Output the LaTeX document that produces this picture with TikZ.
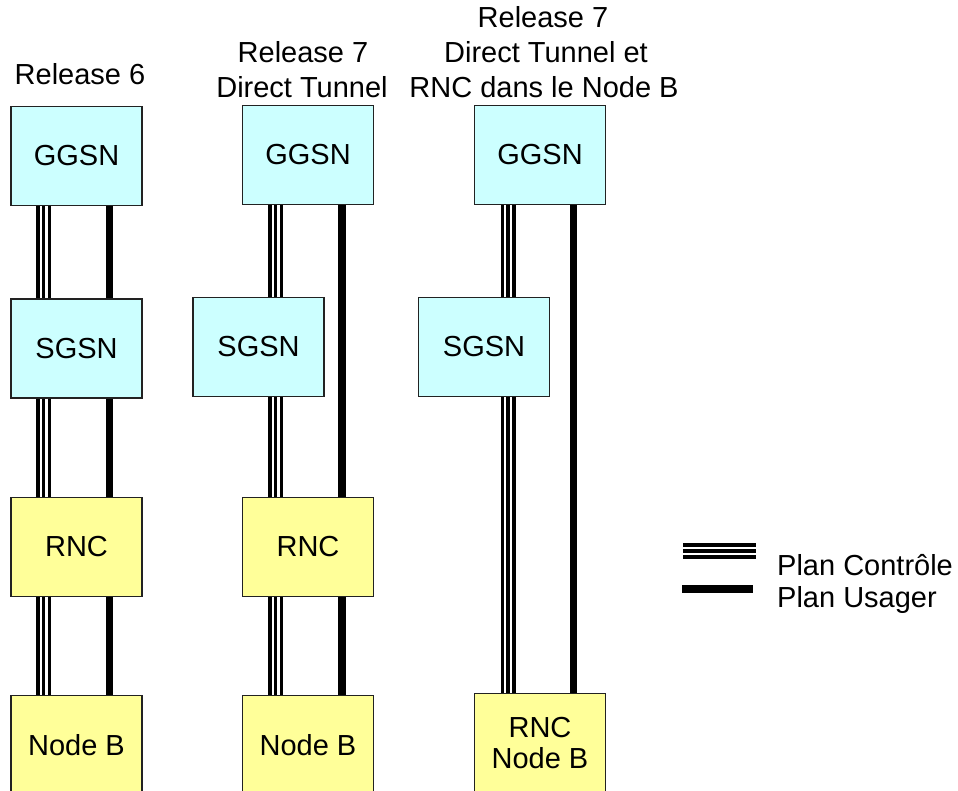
\documentclass[tikz,border=0pt]{standalone}
\usepackage{fontspec}
\setmainfont{Liberation Sans}
\definecolor{boxcyan}{HTML}{CCFFFF}
\definecolor{boxyellow}{HTML}{FFFF99}
\definecolor{boxborder}{HTML}{222222}
\begin{document}
\begin{tikzpicture}[x=1pt,y=-1pt,
  every node/.style={font=\fontsize{29}{33}\selectfont},
  netbox/.style={draw=boxborder, line width=1.2pt, rectangle, minimum width=131pt, minimum height=99pt, inner sep=0pt, align=center},
  corebox/.style={netbox, fill=boxcyan},
  ranbox/.style={netbox, fill=boxyellow},
  title/.style={anchor=base, inner sep=0pt},
  ctrl/.style={draw=black, line width=15pt, postaction={draw=white, line width=8pt}, postaction={draw=black, line width=3.5pt}},
  user/.style={draw=black, line width=7.5pt}]
\useasboundingbox (0,0) rectangle (958,791);
\clip (0,0) rectangle (958,791);
% titles
\node[title] (t1) at (80,85) {Release 6};
\node[title] (t2a) at (303,63) {Release 7};
\node[title] (t2b) at (302,98) {Direct Tunnel};
\node[title] (t3a) at (543,28) {Release 7};
\node[title] (t3b) at (546,63) {Direct Tunnel et};
\node[title] (t3c) at (544,98) {RNC dans le Node B};
% column 1
\node[corebox] (g1) at (76.5,156) {GGSN};
\node[corebox] (s1) at (76.5,348.5) {SGSN};
\node[ranbox] (r1) at (76.5,547) {RNC};
\node[ranbox] (n1) at (76.5,745) {Node B};
% column 2
\node[corebox] (g2) at (308,155) {GGSN};
\node[corebox] (s2) at (258.5,347) {SGSN};
\node[ranbox] (r2) at (308,547) {RNC};
\node[ranbox] (n2) at (308,745) {Node B};
% column 3
\node[corebox] (g3) at (540,155) {GGSN};
\node[corebox] (s3) at (484,347) {SGSN};
\node[ranbox] (n3) at (540,743) {RNC\\[-2pt]Node B};
% x positions of lines
\coordinate (c1) at (43.5,0);
\coordinate (u1) at (109.5,0);
\coordinate (c2) at (275.5,0);
\coordinate (u2) at (342,0);
\coordinate (c3) at (508,0);
\coordinate (u3) at (573.5,0);
% column 1 connectors
\draw[ctrl] (g1.south -| c1) -- (s1.north -| c1);
\draw[ctrl] (s1.south -| c1) -- (r1.north -| c1);
\draw[ctrl] (r1.south -| c1) -- (n1.north -| c1);
\draw[user] (g1.south -| u1) -- (s1.north -| u1);
\draw[user] (s1.south -| u1) -- (r1.north -| u1);
\draw[user] (r1.south -| u1) -- (n1.north -| u1);
% column 2 connectors
\draw[ctrl] (g2.south -| c2) -- (s2.north -| c2);
\draw[ctrl] (s2.south -| c2) -- (r2.north -| c2);
\draw[ctrl] (r2.south -| c2) -- (n2.north -| c2);
\draw[user] (g2.south -| u2) -- (r2.north -| u2);
\draw[user] (r2.south -| u2) -- (n2.north -| u2);
% column 3 connectors
\draw[ctrl] (g3.south -| c3) -- (s3.north -| c3);
\draw[ctrl] (s3.south -| c3) -- (n3.north -| c3);
\draw[user] (g3.south -| u3) -- (n3.north -| u3);
% legend
\coordinate (lc1) at (683,551);
\coordinate (lc2) at (756,551);
\coordinate (lu1) at (682,589);
\coordinate (lu2) at (753,589);
\draw[ctrl, line width=16pt] (lc1) -- (lc2);
\draw[user] (lu1) -- (lu2);
\node[anchor=base west, inner sep=0pt] (lt1) at (777,575) {Plan Contrôle};
\node[anchor=base west, inner sep=0pt] (lt2) at (777,607) {Plan Usager};
\end{tikzpicture}
\end{document}
